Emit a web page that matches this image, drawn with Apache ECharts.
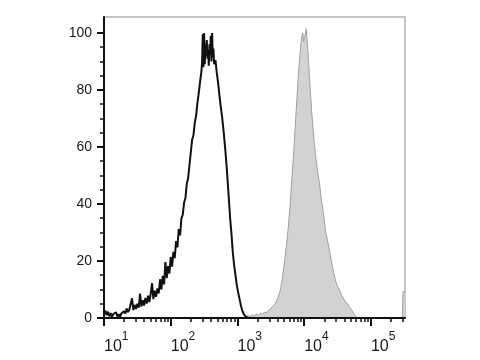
<!DOCTYPE html>
<html>
<head>
<meta charset="utf-8">
<script src="https://cdn.jsdelivr.net/npm/echarts@6/dist/echarts.min.js"></script>
<style>html,body{margin:0;padding:0;background:#fff}#c{width:480px;height:360px}</style>
</head>
<body>
<div id="c"></div>
<script>
// x values are log10 of fluorescence intensity (decades)
var blackDecade = [1.00,1.02,1.04,1.06,1.08,1.10,1.12,1.14,1.16,1.18,1.20,1.22,1.24,1.26,1.28,1.30,1.32,1.34,1.36,1.38,1.40,1.42,1.44,1.46,1.48,1.50,1.52,1.54,1.56,1.58,1.60,1.62,1.64,1.66,1.68,1.70,1.72,1.74,1.76,1.78,1.80,1.82,1.84,1.86,1.88,1.90,1.92,1.94,1.96,1.98,2.00,2.02,2.04,2.06,2.08,2.10,2.12,2.14,2.16,2.18,2.20,2.22,2.24,2.26,2.28,2.30,2.32,2.34,2.36,2.38,2.40,2.42,2.44,2.46,2.47,2.48,2.49,2.50,2.51,2.52,2.53,2.54,2.55,2.56,2.57,2.58,2.59,2.60,2.61,2.62,2.63,2.64,2.65,2.67,2.69,2.71,2.73,2.75,2.77,2.79,2.81,2.83,2.85,2.87,2.89,2.91,2.93,2.95,2.97,2.99,3.01,3.03,3.05,3.07,3.09,3.11,3.13,3.16];
var blackCount = [1.2,2.6,1.0,2.2,0.6,1.7,0.4,1.4,0.7,2.0,0.5,1.3,0.3,1.6,1.1,2.4,1.6,3.3,2.1,3.0,2.4,6.9,2.8,4.6,3.2,5.0,3.6,8.6,4.0,6.2,4.4,7.0,5.1,7.8,5.6,8.5,12.2,6.6,9.6,7.4,10.4,8.6,13.6,10.0,14.8,11.8,19.6,14.0,18.2,15.6,21.4,18.0,23.2,21.0,27.0,24.8,31.2,29.0,35.0,36.2,40.5,42.0,47.0,49.0,53.5,58.0,62.5,64.0,68.5,71.0,75.5,79.0,83.0,86.5,90.0,99.5,88.0,100.0,89.0,96.0,92.0,97.5,91.0,94.0,88.5,96.0,92.5,99.0,90.0,100.0,91.5,94.5,89.0,90.5,86.0,82.5,78.0,74.0,70.5,66.0,61.0,55.5,49.0,42.0,35.0,29.5,23.0,18.5,15.0,11.5,9.0,6.8,4.5,2.8,1.6,0.8,0.3,0.0];
var grayDecade = [3.10,3.13,3.16,3.19,3.22,3.25,3.28,3.31,3.34,3.37,3.40,3.43,3.46,3.49,3.52,3.55,3.58,3.61,3.64,3.67,3.70,3.73,3.76,3.79,3.82,3.85,3.88,3.91,3.94,3.96,3.98,3.99,4.01,4.03,4.05,4.07,4.09,4.11,4.13,4.15,4.17,4.20,4.23,4.26,4.29,4.32,4.35,4.38,4.41,4.44,4.47,4.50,4.53,4.56,4.59,4.62,4.65,4.68,4.71,4.74,4.77,4.80,5.14,5.16,5.18,5.47,5.48,5.51];
var grayCount = [0,0.4,0.9,0.5,1.1,0.6,1.4,1.0,1.7,1.3,2.1,1.8,2.6,3.0,3.9,4.6,5.6,7.4,9.6,13.5,18.8,24.8,31.5,40.0,50.5,61.0,73.0,84.5,93.5,98.5,100.0,97.0,99.0,101.5,95.5,88.0,80.0,73.0,67.0,61.5,57.0,51.5,47.0,41.0,36.5,30.5,27.0,23.5,19.5,16.0,13.0,11.0,9.8,8.0,6.8,5.6,5.0,3.8,2.8,1.5,0.6,0,0,0.6,0,0,9.2,9.2];

var xMajorTicks = [1, 2, 3, 4, 5];
var xMajorExponents = ['1', '2', '3', '4', '5'];
var xMinorMultipliers = [2, 3, 4, 5, 6, 7, 8, 9];
var yMajorTicks = [0, 20, 40, 60, 80, 100];
var yMinorTicks = [5, 10, 15, 25, 30, 35, 45, 50, 55, 65, 70, 75, 85, 90, 95];

var X_MIN = 1, X_MAX = 5.51, Y_MIN = 0, Y_MAX = 105.6;

var xMinorTicks = [];
xMajorTicks.forEach(function (d) {
  xMinorMultipliers.forEach(function (m) {
    var v = d + Math.log10(m);
    if (v <= X_MAX) xMinorTicks.push(v);
  });
});

function pairs(xs, ys) { return xs.map(function (x, i) { return [x, ys[i]]; }); }

var font = 'Liberation Sans, Arial, sans-serif';
var chart = echarts.init(document.getElementById('c'), null, { renderer: 'canvas' });
chart.setOption({
  animation: false,
  backgroundColor: '#ffffff',
  grid: { left: 104, right: 75, top: 17, bottom: 42, show: true, borderColor: '#b3b3b3', borderWidth: 1.5, backgroundColor: 'transparent' },
  xAxis: [{
    type: 'value', position: 'bottom', min: X_MIN, max: X_MAX, z: 5,
    splitLine: { show: false },
    axisLine: { show: true, lineStyle: { color: '#111', width: 2 } },
    axisTick: { show: true, customValues: xMajorTicks, length: 8, lineStyle: { color: '#111', width: 2 } },
    axisLabel: {
      show: true, customValues: xMajorTicks, margin: 13, align: 'left',
      formatter: function (v) {
        var i = xMajorTicks.indexOf(v);
        return '{sp| }{b|10}{s|' + xMajorExponents[i] + '}';
      },
      rich: {
        sp: { fontSize: 1, lineHeight: 24, width: 0 },
        b: { fontSize: 16, fontFamily: font, color: '#1a1a1a', lineHeight: 16, verticalAlign: 'bottom' },
        s: { fontSize: 12, fontFamily: font, color: '#1a1a1a', lineHeight: 12, verticalAlign: 'top' }
      }
    }
  }, {
    type: 'value', position: 'bottom', min: X_MIN, max: X_MAX, z: 5,
    splitLine: { show: false },
    axisLine: { show: false },
    axisLabel: { show: false },
    axisTick: { show: true, customValues: xMinorTicks, length: 4, lineStyle: { color: '#111', width: 1.5 } }
  }],
  yAxis: [{
    type: 'value', position: 'left', min: Y_MIN, max: Y_MAX, z: 5,
    splitLine: { show: false },
    axisLine: { show: true, lineStyle: { color: '#111', width: 2 } },
    axisTick: { show: true, customValues: yMajorTicks, length: 7, lineStyle: { color: '#111', width: 2 } },
    axisLabel: { show: true, customValues: yMajorTicks, margin: 12, fontSize: 14, fontFamily: font, color: '#1a1a1a' }
  }, {
    type: 'value', position: 'left', min: Y_MIN, max: Y_MAX, z: 5,
    splitLine: { show: false },
    axisLine: { show: false },
    axisLabel: { show: false },
    axisTick: { show: true, customValues: yMinorTicks, length: 4, lineStyle: { color: '#111', width: 1.5 } }
  }],
  series: [{
    type: 'line', xAxisIndex: 0, yAxisIndex: 0, showSymbol: false, z: 2,
    data: pairs(grayDecade, grayCount),
    lineStyle: { color: '#a0a0a0', width: 1 },
    areaStyle: { color: '#d2d2d2', opacity: 1 }
  }, {
    type: 'line', xAxisIndex: 0, yAxisIndex: 0, showSymbol: false, z: 3,
    data: pairs(blackDecade, blackCount),
    lineStyle: { color: '#111', width: 2 }
  }]
});
</script>
</body>
</html>
